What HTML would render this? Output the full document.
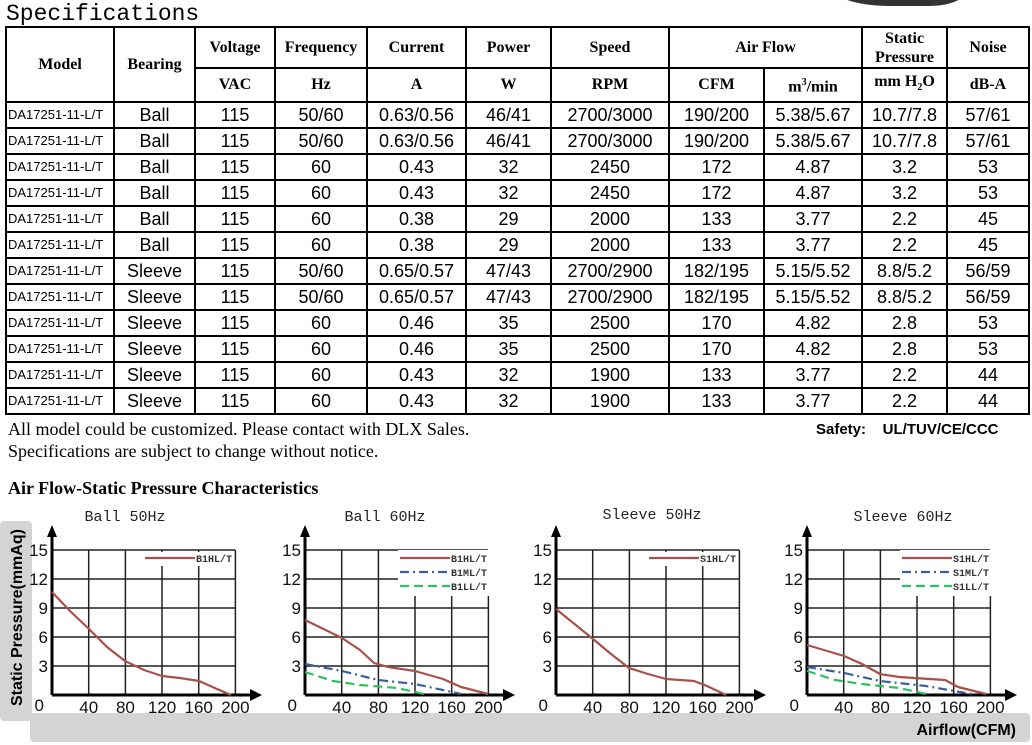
<!DOCTYPE html>
<html><head><meta charset="utf-8"><style>
body{margin:0;width:1032px;height:745px;background:#fff;position:relative;overflow:hidden;font-family:"Liberation Sans",sans-serif}
.abs{position:absolute;white-space:nowrap}
table{position:absolute;left:5px;top:26px;border-collapse:collapse;table-layout:fixed;width:1023px}
td{border:2px solid #000;text-align:center;padding:0;font-size:18px;height:24px;line-height:22px}
tr.h td{font-family:"Liberation Serif",serif;font-weight:bold;font-size:16px}
td.m{font-size:13px;text-align:left;padding-left:1px}
</style></head><body>
<div class="abs" style="left:6px;top:1px;font-family:'Liberation Mono',monospace;font-size:23px;line-height:26px">Specifications</div>
<div class="abs" style="left:830px;top:-16px;width:140px;height:22px;background:#333;border-radius:0 0 40px 60px/0 0 20px 20px"></div>
<table>
<colgroup><col style="width:108px"><col style="width:81px"><col style="width:80px"><col style="width:92px"><col style="width:99px"><col style="width:85px"><col style="width:118px"><col style="width:95px"><col style="width:98px"><col style="width:85px"><col style="width:82px"></colgroup>
<tr class="h" style="height:41px"><td rowspan="2">Model</td><td rowspan="2">Bearing</td><td>Voltage</td><td>Frequency</td><td>Current</td><td>Power</td><td>Speed</td><td colspan="2">Air Flow</td><td style="line-height:19px">Static<br>Pressure</td><td>Noise</td></tr>
<tr class="h" style="height:34px"><td>VAC</td><td>Hz</td><td>A</td><td>W</td><td>RPM</td><td>CFM</td><td>m<sup style="font-size:10px">3</sup>/min</td><td>mm H<sub style="font-size:10px">2</sub>O</td><td>dB-A</td></tr>
<tr><td class="m">DA17251-11-L/T</td><td>Ball</td><td>115</td><td>50/60</td><td>0.63/0.56</td><td>46/41</td><td>2700/3000</td><td>190/200</td><td>5.38/5.67</td><td>10.7/7.8</td><td>57/61</td></tr>
<tr><td class="m">DA17251-11-L/T</td><td>Ball</td><td>115</td><td>50/60</td><td>0.63/0.56</td><td>46/41</td><td>2700/3000</td><td>190/200</td><td>5.38/5.67</td><td>10.7/7.8</td><td>57/61</td></tr>
<tr><td class="m">DA17251-11-L/T</td><td>Ball</td><td>115</td><td>60</td><td>0.43</td><td>32</td><td>2450</td><td>172</td><td>4.87</td><td>3.2</td><td>53</td></tr>
<tr><td class="m">DA17251-11-L/T</td><td>Ball</td><td>115</td><td>60</td><td>0.43</td><td>32</td><td>2450</td><td>172</td><td>4.87</td><td>3.2</td><td>53</td></tr>
<tr><td class="m">DA17251-11-L/T</td><td>Ball</td><td>115</td><td>60</td><td>0.38</td><td>29</td><td>2000</td><td>133</td><td>3.77</td><td>2.2</td><td>45</td></tr>
<tr><td class="m">DA17251-11-L/T</td><td>Ball</td><td>115</td><td>60</td><td>0.38</td><td>29</td><td>2000</td><td>133</td><td>3.77</td><td>2.2</td><td>45</td></tr>
<tr><td class="m">DA17251-11-L/T</td><td>Sleeve</td><td>115</td><td>50/60</td><td>0.65/0.57</td><td>47/43</td><td>2700/2900</td><td>182/195</td><td>5.15/5.52</td><td>8.8/5.2</td><td>56/59</td></tr>
<tr><td class="m">DA17251-11-L/T</td><td>Sleeve</td><td>115</td><td>50/60</td><td>0.65/0.57</td><td>47/43</td><td>2700/2900</td><td>182/195</td><td>5.15/5.52</td><td>8.8/5.2</td><td>56/59</td></tr>
<tr><td class="m">DA17251-11-L/T</td><td>Sleeve</td><td>115</td><td>60</td><td>0.46</td><td>35</td><td>2500</td><td>170</td><td>4.82</td><td>2.8</td><td>53</td></tr>
<tr><td class="m">DA17251-11-L/T</td><td>Sleeve</td><td>115</td><td>60</td><td>0.46</td><td>35</td><td>2500</td><td>170</td><td>4.82</td><td>2.8</td><td>53</td></tr>
<tr><td class="m">DA17251-11-L/T</td><td>Sleeve</td><td>115</td><td>60</td><td>0.43</td><td>32</td><td>1900</td><td>133</td><td>3.77</td><td>2.2</td><td>44</td></tr>
<tr><td class="m">DA17251-11-L/T</td><td>Sleeve</td><td>115</td><td>60</td><td>0.43</td><td>32</td><td>1900</td><td>133</td><td>3.77</td><td>2.2</td><td>44</td></tr>
</table>
<div class="abs" style="left:8px;top:418px;font-family:'Liberation Serif',serif;font-size:18px;line-height:22px">All model could be customized. Please contact with DLX Sales.<br>Specifications are subject to change without notice.</div>
<div class="abs" style="left:816px;top:421px;font-weight:bold;font-size:15px">Safety:&nbsp;&nbsp;&nbsp; UL/TUV/CE/CCC</div>
<div class="abs" style="left:8px;top:478px;font-family:'Liberation Serif',serif;font-weight:bold;font-size:18px">Air Flow-Static Pressure Characteristics</div>
<svg class="abs" style="left:0;top:0" width="1032" height="745" xmlns="http://www.w3.org/2000/svg">
<rect x="0" y="521" width="32" height="200" rx="4" fill="#d4d4d4"/>
<rect x="30" y="713" width="1000" height="29" rx="4" fill="#d4d4d4"/>
<text transform="translate(22,706) rotate(-90)" font-family="Liberation Sans" font-weight="bold" font-size="16">Static Pressure(mmAq)</text>
<text x="1016" y="735" text-anchor="end" font-family="Liberation Sans" font-weight="bold" font-size="16">Airflow(CFM)</text>
<g font-family="Liberation Mono,monospace" font-size="15" fill="#222">
<text x="125" y="521" text-anchor="middle">Ball 50Hz</text>
<text x="385" y="521" text-anchor="middle">Ball 60Hz</text>
<text x="652" y="519" text-anchor="middle">Sleeve 50Hz</text>
<text x="903" y="521" text-anchor="middle">Sleeve 60Hz</text>
</g>
<defs>
<g id="ax">
<g stroke="#222" stroke-width="1.5">
<line x1="0" y1="-29" x2="183" y2="-29"/><line x1="0" y1="-58" x2="183" y2="-58"/><line x1="0" y1="-87" x2="183" y2="-87"/><line x1="0" y1="-116" x2="183" y2="-116"/><line x1="0" y1="-145" x2="183" y2="-145"/>
<line x1="36.7" y1="0" x2="36.7" y2="-145"/><line x1="73.4" y1="0" x2="73.4" y2="-145"/><line x1="110" y1="0" x2="110" y2="-145"/><line x1="146.7" y1="0" x2="146.7" y2="-145"/><line x1="183.4" y1="0" x2="183.4" y2="-145"/>
</g>
<line x1="0" y1="0" x2="200" y2="0" stroke="#000" stroke-width="3"/>
<line x1="0" y1="0" x2="0" y2="-160" stroke="#000" stroke-width="3"/>
<polygon points="198,-6 210,0 198,6" fill="#000"/>
<polygon points="-5,-158 0,-170 5,-158" fill="#000"/>
<g font-family="Liberation Sans" font-size="17" fill="#111">
<text x="-8" y="16" text-anchor="end">0</text>
<text x="36.7" y="18" text-anchor="middle">40</text><text x="73.4" y="18" text-anchor="middle">80</text><text x="110" y="18" text-anchor="middle">120</text><text x="146.7" y="18" text-anchor="middle">160</text><text x="183.4" y="18" text-anchor="middle">200</text>
<text x="-4" y="-23" text-anchor="end">3</text><text x="-4" y="-52" text-anchor="end">6</text><text x="-4" y="-81" text-anchor="end">9</text><text x="-4" y="-110" text-anchor="end">12</text><text x="-4" y="-139" text-anchor="end">15</text>
</g>
</g>
</defs>
<g fill="none" stroke-width="2.2" stroke-linejoin="round">
<g transform="translate(52,695)"><use href="#ax"/>
<rect x="90" y="-143" width="92" height="14" fill="#fff" stroke="none"/>
<line x1="93" y1="-137" x2="143" y2="-137" stroke="#a8504a"/>
<text x="144" y="-133" font-family="Liberation Mono" font-size="10" font-weight="bold" fill="#333" stroke="none">B1HL/T</text>
<polyline stroke="#a8504a" points="0,-103 18,-84 37,-66 55,-48 73,-34 92,-25 110,-19 128,-17 147,-14 165,-6 179,0"/></g>
<g transform="translate(305,695)"><use href="#ax"/>
<rect x="93" y="-145" width="92" height="46" fill="#fff" stroke="none"/>
<line x1="95" y1="-137" x2="145" y2="-137" stroke="#a8504a"/>
<line x1="95" y1="-123" x2="145" y2="-123" stroke="#3a5f9a" stroke-dasharray="9,4,2,4"/>
<line x1="95" y1="-109" x2="145" y2="-109" stroke="#2ec060" stroke-dasharray="9,5"/>
<g font-family="Liberation Mono" font-size="10" font-weight="bold" fill="#333" stroke="none"><text x="146" y="-133">B1HL/T</text><text x="146" y="-119">B1ML/T</text><text x="146" y="-105">B1LL/T</text></g>
<polyline stroke="#a8504a" points="0,-75 37,-57 55,-45 69,-32 83,-28 110,-24 138,-16 156,-8 183,-1"/>
<polyline stroke="#3a5f9a" stroke-dasharray="9,4,2,4" points="0,-31 37,-24 73,-15 110,-11 147,-3 156,-1"/>
<polyline stroke="#2ec060" stroke-dasharray="9,5" points="0,-23 28,-14 55,-10 92,-7 119,-1"/></g>
<g transform="translate(556,695)"><use href="#ax"/>
<rect x="90" y="-143" width="92" height="14" fill="#fff" stroke="none"/>
<line x1="93" y1="-137" x2="143" y2="-137" stroke="#a8504a"/>
<text x="144" y="-133" font-family="Liberation Mono" font-size="10" font-weight="bold" fill="#333" stroke="none">S1HL/T</text>
<polyline stroke="#a8504a" points="0,-86 37,-56 55,-41 73,-27 92,-21 110,-16 138,-14 151,-9 170,0"/></g>
<g transform="translate(807,695)"><use href="#ax"/>
<rect x="93" y="-145" width="92" height="46" fill="#fff" stroke="none"/>
<line x1="95" y1="-137" x2="145" y2="-137" stroke="#a8504a"/>
<line x1="95" y1="-123" x2="145" y2="-123" stroke="#3a5f9a" stroke-dasharray="9,4,2,4"/>
<line x1="95" y1="-109" x2="145" y2="-109" stroke="#2ec060" stroke-dasharray="9,5"/>
<g font-family="Liberation Mono" font-size="10" font-weight="bold" fill="#333" stroke="none"><text x="146" y="-133">S1HL/T</text><text x="146" y="-119">S1ML/T</text><text x="146" y="-105">S1LL/T</text></g>
<polyline stroke="#a8504a" points="0,-50 37,-39 55,-31 73,-21 92,-18 138,-15 151,-8 179,-1"/>
<polyline stroke="#3a5f9a" stroke-dasharray="9,4,2,4" points="0,-28 37,-22 73,-14 119,-9 147,-4 165,-1"/>
<polyline stroke="#2ec060" stroke-dasharray="9,5" points="0,-24 28,-15 55,-11 92,-7 119,-1"/></g>
</g>
</svg>
</body></html>
